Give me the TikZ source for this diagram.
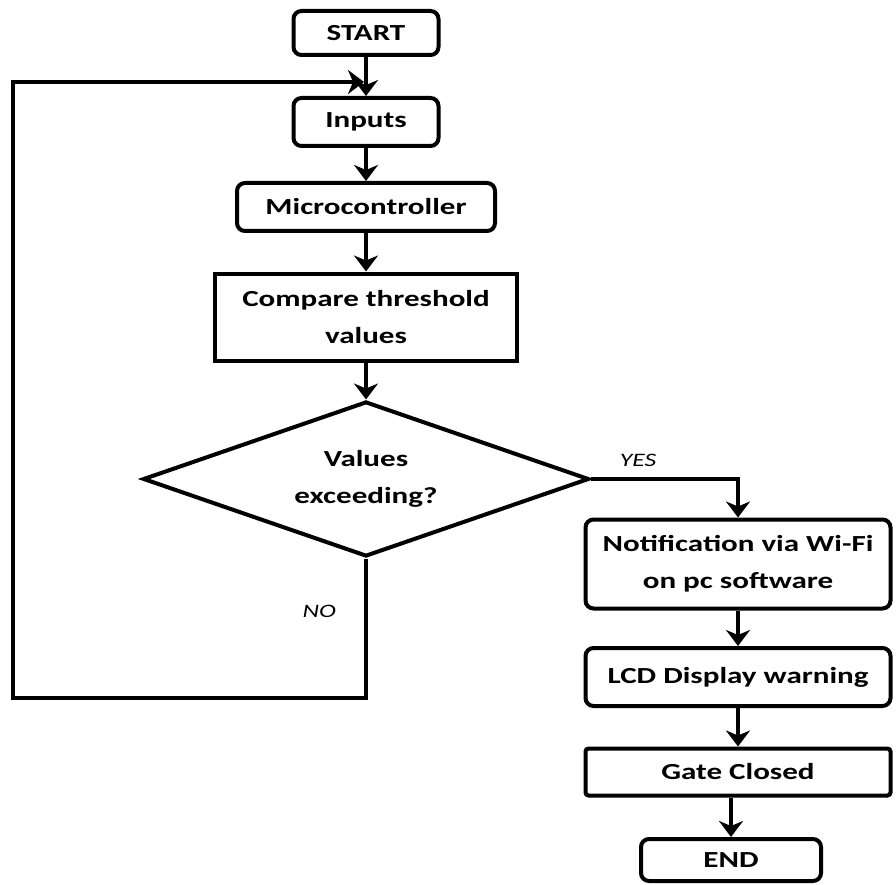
\documentclass[tikz,border=0pt]{standalone}
\usepackage{fontspec}
\setmainfont{Carlito}[FakeStretch=1.35]
\usetikzlibrary{shapes,arrows.meta,positioning,calc}

\begin{document}
\begin{tikzpicture}[x=1pt, y=-1pt, line width=4pt,
            every node/.style={font=\fontsize{23}{37}\selectfont\bfseries, align=center, inner sep=0pt},
            box/.style={draw, rounded corners=8pt},
            flow/.style={-{Stealth[length=16pt, width=24pt, inset=5pt]}},
            lbl/.style={font=\fontsize{19}{20}\selectfont\itshape}]
            \useasboundingbox (0,0) rectangle (896,885);
            \node[box, minimum width=145pt, minimum height=44pt] (Start) at (366,33) {START};
            \node[box, minimum width=145pt, minimum height=48pt] (Inputs) at (366,122) {Inputs};
            \draw[flow] (Start) -- (Inputs);
            \node[box, minimum width=258pt, minimum height=48pt] (Micro) at (366,207) {Microcontroller};
            \draw[flow] (Inputs) -- (Micro);
            \node[draw, minimum width=302pt, minimum height=87pt] (Compare) at (366,317) {Compare threshold\\values};
            \draw[flow] (Micro) -- (Compare);
            \node[draw, diamond, aspect=2.85, minimum width=446pt, minimum height=155pt] (Check) at (366,479) {Values\\exceeding?};
            \draw[flow] (Compare) -- (Check);
            \coordinate (Join) at (364,82);
            \draw[flow] (Check.south) -- node[lbl, pos=0.38, left=28pt] {NO} ++(0,139) -| (13,82) -- (Join);
            \node[box, minimum width=305pt, minimum height=89pt] (Notif) at (738,564) {Notification via Wi-Fi\\on pc software};
            \draw[flow] (Check.east) -| node[lbl, pos=0.16, above=10pt] {YES} (Notif.north);
            \node[box, minimum width=305pt, minimum height=58pt] (LCD) at (738,677) {LCD Display warning};
            \draw[flow] (Notif) -- (LCD);
            \node[box, rounded corners=3pt, minimum width=305pt, minimum height=47pt] (Gate) at (738,772) {Gate Closed};
            \draw[flow] (LCD) -- (Gate);
            \node[box, minimum width=180pt, minimum height=42pt] (End) at (731,860) {END};
            \draw[flow] (Gate.south -| End) -- (End);
        \end{tikzpicture}
\end{document}
